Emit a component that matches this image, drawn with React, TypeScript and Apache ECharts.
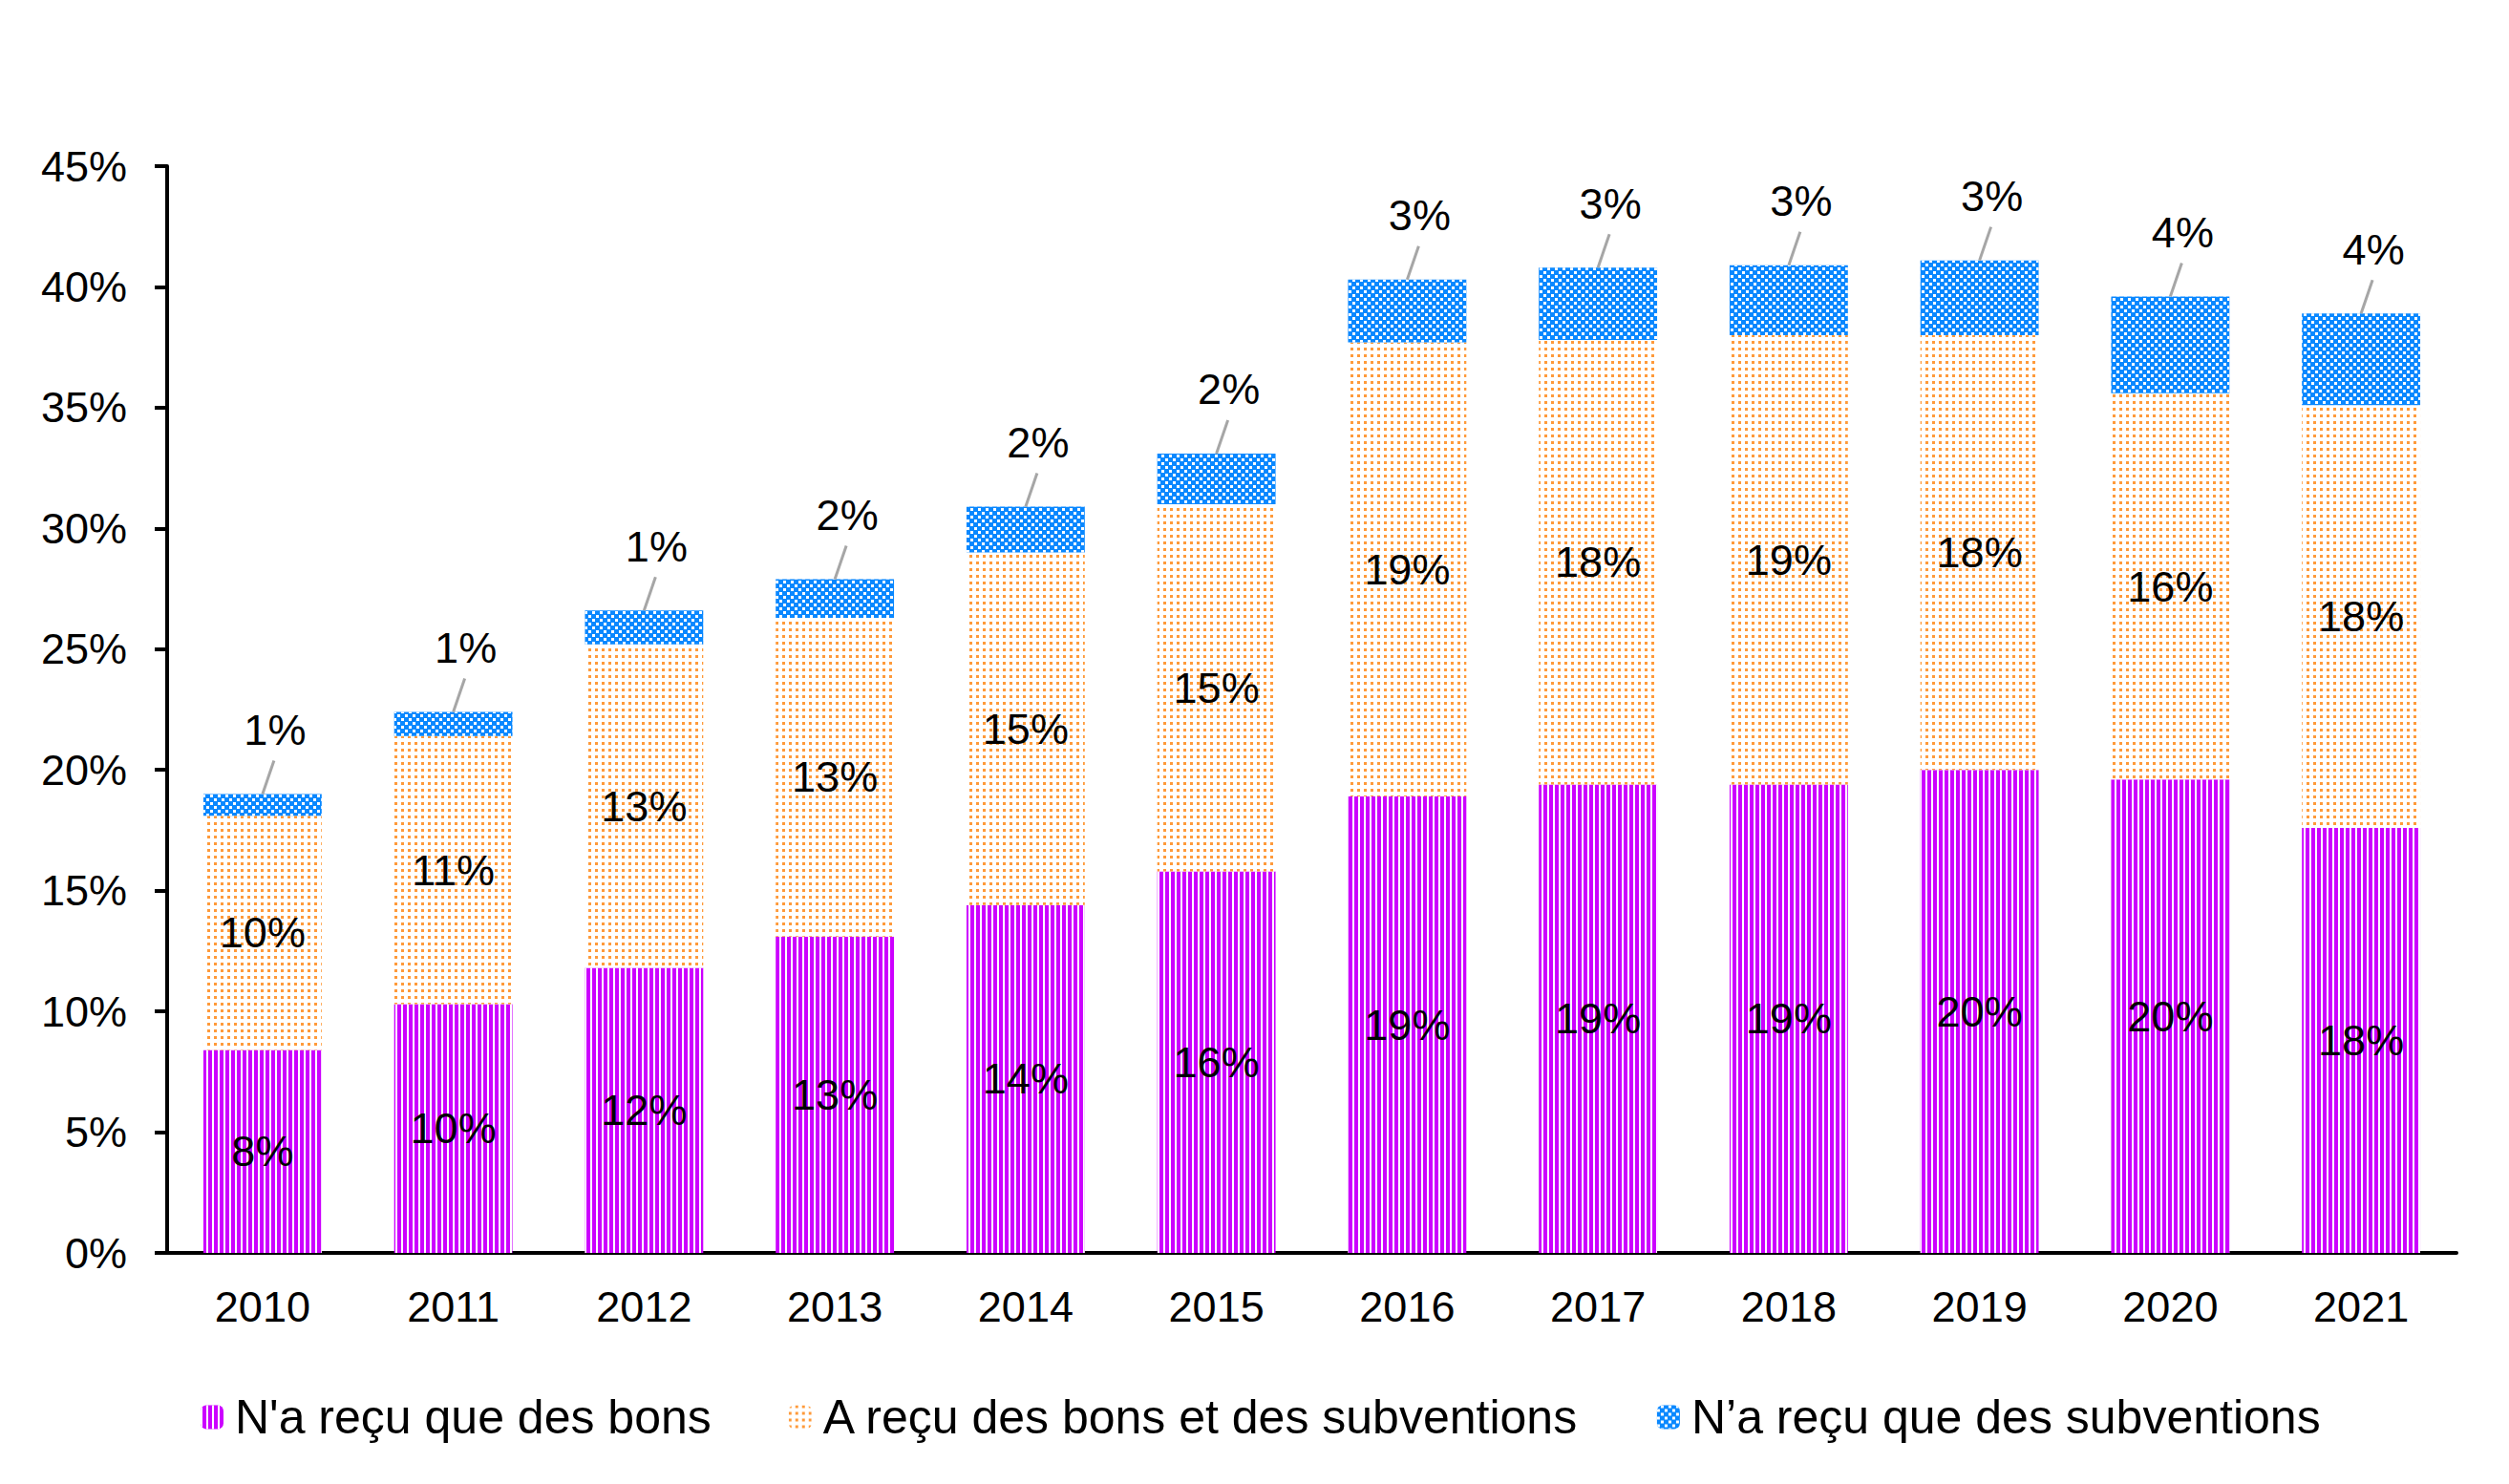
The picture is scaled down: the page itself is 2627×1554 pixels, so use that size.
import React, { useEffect, useRef } from "react";
import * as echarts from "echarts";

const years = ["2010", "2011", "2012", "2013", "2014", "2015", "2016", "2017", "2018", "2019", "2020", "2021"];
const bonsOnly = [8.4, 10.3, 11.8, 13.1, 14.4, 15.8, 18.9, 19.4, 19.4, 20.0, 19.6, 17.6];
const bonsEtSubv = [9.7, 11.1, 13.4, 13.2, 14.6, 15.2, 18.8, 18.4, 18.6, 18.0, 16.0, 17.5];
const subvOnly = [0.9, 1.0, 1.4, 1.6, 1.9, 2.1, 2.6, 3.0, 2.9, 3.1, 4.0, 3.8];
const seriesNames = [
  "N'a reçu que des bons",
  "A reçu des bons et des subventions",
  "N’a reçu que des subventions",
];

const FONT = "'Liberation Sans', Arial, sans-serif";

const App: React.FC = () => {
  const chartRef = useRef<HTMLDivElement>(null);

  useEffect(() => {
    if (!chartRef.current) return;
    const chart = echarts.init(chartRef.current, null, { renderer: "svg" });

    const pct = (p: any) => Math.round(p.value) + "%";
    const insideLabel = {
      show: true,
      position: "inside",
      formatter: pct,
      color: "#000",
      fontSize: 45,
      fontFamily: FONT,
    };

    const option: any = {
      animation: false,
      textStyle: { fontFamily: FONT },
      grid: { left: 175, right: 55, top: 174, bottom: 242, containLabel: false },
      legend: {
        data: seriesNames,
        left: 210,
        top: 1459,
        padding: 0,
        itemWidth: 24,
        itemHeight: 25,
        itemGap: 81,
        textStyle: {
          fontSize: 50,
          fontFamily: FONT,
          color: "#000",
          lineHeight: 50,
          padding: [0, 0, 0, 7],
        },
      },
      xAxis: {
        type: "category",
        data: years,
        axisLine: { show: true, lineStyle: { color: "#000", width: 4 } },
        axisTick: { show: false },
        axisLabel: { color: "#000", fontSize: 45, fontFamily: FONT, margin: 34 },
      },
      yAxis: {
        type: "value",
        min: 0,
        max: 45,
        interval: 5,
        axisLine: { show: true, lineStyle: { color: "#000", width: 4 } },
        axisTick: { show: true, length: 13, lineStyle: { color: "#000", width: 4 } },
        splitLine: { show: false },
        axisLabel: { color: "#000", fontSize: 45, fontFamily: FONT, margin: 42, formatter: "{value}%" },
      },
      series: [
        {
          name: seriesNames[0],
          type: "bar",
          stack: "total",
          barWidth: "62%",
          data: bonsOnly,
          label: insideLabel,
          itemStyle: {
            color: "#CC00FF",
            decal: {
              symbol: "rect",
              symbolSize: 1,
              color: "#ffffff",
              dashArrayX: [2, 4],
              dashArrayY: [10, 0],
            },
          },
        },
        {
          name: seriesNames[1],
          type: "bar",
          stack: "total",
          data: bonsEtSubv,
          label: insideLabel,
          itemStyle: {
            color: "#ffffff",
            decal: {
              symbol: "rect",
              symbolSize: 1,
              color: "#FF9A3A",
              dashArrayX: [3, 4],
              dashArrayY: [3, 4],
            },
          },
        },
        {
          name: seriesNames[2],
          type: "bar",
          stack: "total",
          data: subvOnly,
          label: { show: false },
          itemStyle: {
            color: "#0A88FF",
            decal: {
              symbol: "rect",
              symbolSize: 1,
              color: "#ffffff",
              dashArrayX: [[3, 5], [0, 4, 3, 1]],
              dashArrayY: [3, 1],
            },
          },
        },
        {
          type: "custom",
          silent: true,
          z: 10,
          encode: { x: 0, y: 1 },
          data: years.map((_, i) => [i, bonsOnly[i] + bonsEtSubv[i] + subvOnly[i], subvOnly[i]]),
          renderItem: (_params: any, api: any) => {
            const p = api.coord([api.value(0), api.value(1)]);
            return {
              type: "group",
              children: [
                {
                  type: "line",
                  shape: { x1: p[0], y1: p[1], x2: p[0] + 12, y2: p[1] - 35 },
                  style: { stroke: "#A6A6A6", lineWidth: 3 },
                },
                {
                  type: "text",
                  x: p[0] + 13,
                  y: p[1] - 67,
                  style: {
                    text: Math.round(api.value(2)) + "%",
                    fontSize: 45,
                    fontFamily: FONT,
                    fill: "#000",
                    textAlign: "center",
                    textVerticalAlign: "middle",
                  },
                },
              ],
            };
          },
        },
      ],
    };

    chart.setOption(option);
    return () => {
      chart.dispose();
    };
  }, []);

  return (
    <div
      ref={chartRef}
      style={{ position: "fixed", left: 0, top: 0, width: "2627px", height: "1554px", background: "#fff" }}
    />
  );
};

export default App;
